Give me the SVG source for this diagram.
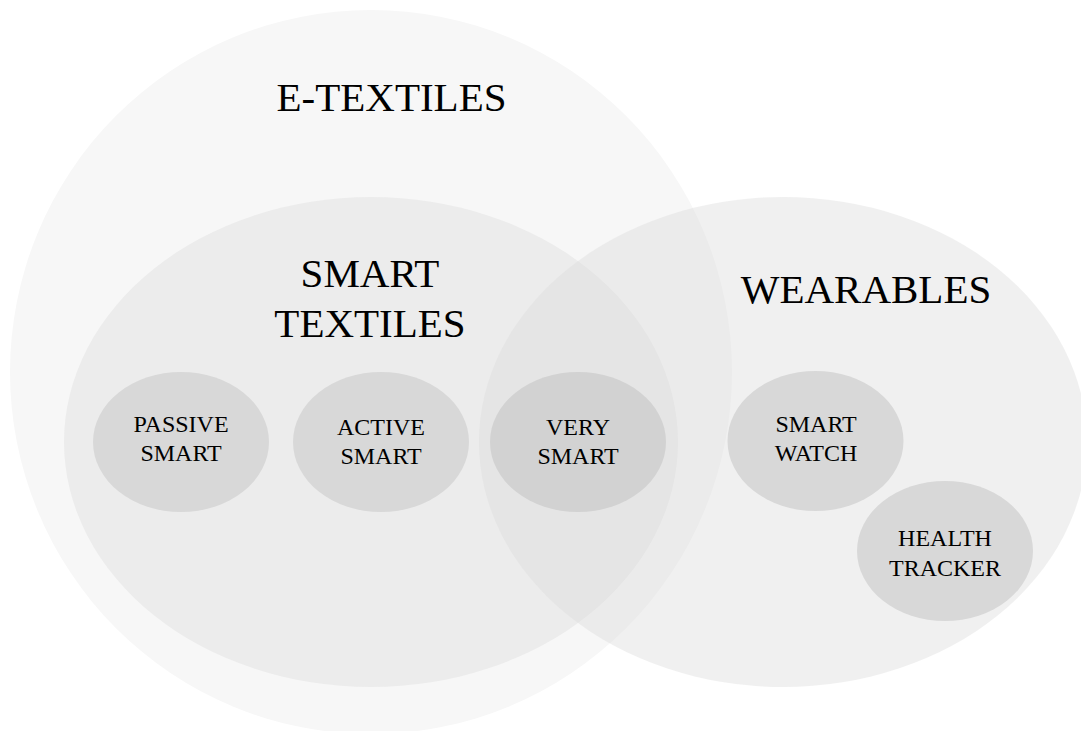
<svg xmlns="http://www.w3.org/2000/svg" width="1081" height="731" viewBox="0 0 1081 731">
<style>
text{font-family:"Liberation Serif","Times New Roman",serif;fill:#000;text-anchor:middle}
.big{font-size:41px}
.sm{font-size:24px}
.node{fill:#d8d8d8}
</style>
<rect x="0" y="0" width="1081" height="731" fill="#ffffff"/>
<g id="e-textiles">
<ellipse cx="371" cy="372" rx="361" ry="362" fill="#f7f7f7"/>
<text class="big" x="391.5" y="111">E-TEXTILES</text>
</g>
<g id="smart-textiles">
<ellipse cx="371" cy="442" rx="307" ry="245" fill="#ececec"/>
<text class="big" x="370" y="287">SMART</text>
<text class="big" x="370" y="337">TEXTILES</text>
</g>
<g id="wearables">
<ellipse cx="783" cy="442" rx="304" ry="245" fill="#dbdbdb" fill-opacity="0.42"/>
<text class="big" x="866" y="303">WEARABLES</text>
</g>
<g id="passive-smart">
<ellipse class="node" cx="181" cy="442" rx="88" ry="70"/>
<text class="sm" x="181" y="432">PASSIVE</text>
<text class="sm" x="181" y="461">SMART</text>
</g>
<g id="active-smart">
<ellipse class="node" cx="381" cy="442" rx="88" ry="70"/>
<text class="sm" x="381" y="435">ACTIVE</text>
<text class="sm" x="381" y="464">SMART</text>
</g>
<g id="very-smart">
<ellipse cx="578" cy="442" rx="88" ry="70" fill="#d2d2d2"/>
<text class="sm" x="578" y="435">VERY</text>
<text class="sm" x="578" y="464">SMART</text>
</g>
<g id="smart-watch">
<ellipse class="node" cx="815.5" cy="441" rx="88" ry="70"/>
<text class="sm" x="816" y="432">SMART</text>
<text class="sm" x="816" y="461">WATCH</text>
</g>
<g id="health-tracker">
<ellipse class="node" cx="945" cy="551" rx="88" ry="70"/>
<text class="sm" x="945" y="546">HEALTH</text>
<text class="sm" x="945" y="576">TRACKER</text>
</g>
<g id="connectors"></g>
</svg>
